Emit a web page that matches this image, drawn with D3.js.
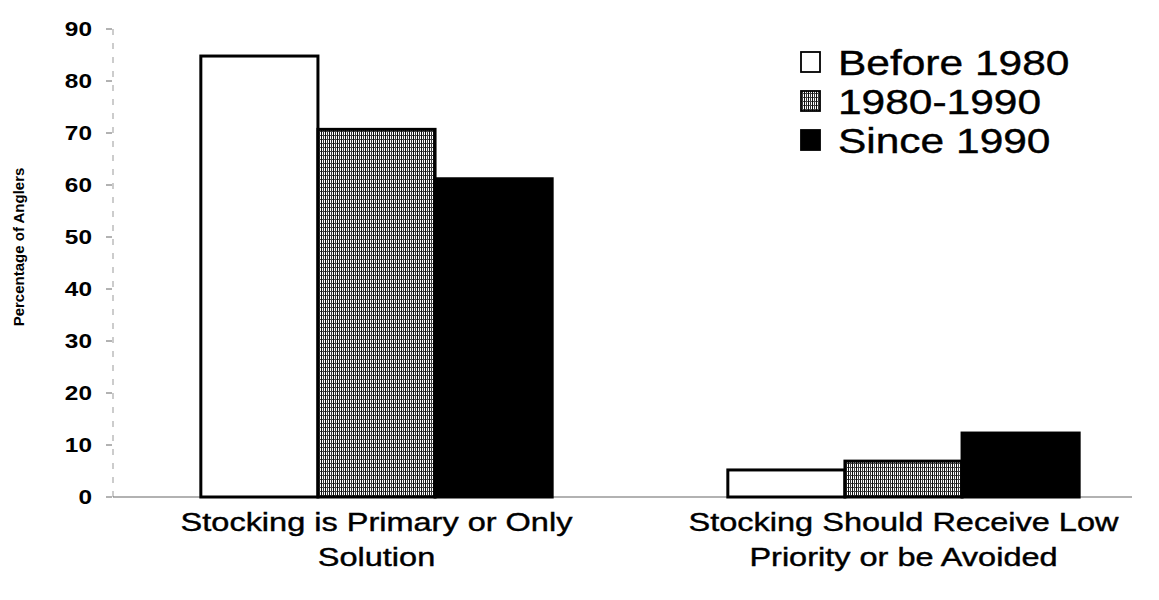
<!DOCTYPE html>
<meta charset="utf-8">
<html lang="en">
<head>
<title>Percentage of Anglers</title>
<script src="https://d3js.org/d3.v7.min.js"></script>
<style>
  html, body { margin: 0; padding: 0; background: #fff; }
  text { font-family: "Liberation Sans", Arial, sans-serif; fill: #000; }
  .tick-label { font-size: 20px; font-weight: bold; }
  .cat-label { font-size: 25px; stroke: #000; stroke-width: 0.4px; }
  .legend-label { font-size: 36px; stroke: #000; stroke-width: 0.4px; }
  .y-title { font-size: 15px; font-weight: bold; }
</style>
</head>
<body>
<div id="chart"></div>
<script>
// data
const categories = ["Stocking is Primary or Only Solution", "Stocking Should Receive Low Priority or be Avoided"];
const categoryLines = [["Stocking is Primary or Only", "Solution"], ["Stocking Should Receive Low", "Priority or be Avoided"]];
const series = ["Before 1980", "1980-1990", "Since 1990"];
const before1980 = [84.8, 5.2];
const from1980to1990 = [70.7, 6.9];
const since1990 = [61.2, 12.3];
const yTicks = [0, 10, 20, 30, 40, 50, 60, 70, 80, 90];

const values = [before1980, from1980to1990, since1990];
const W = 1159, H = 600;
const stretch = 1.22; // the scan is wider than tall

const svg = d3.select("#chart").append("svg")
    .attr("width", W).attr("height", H);

// stipple pattern for the middle series
const defs = svg.append("defs");
const pat = defs.append("pattern")
    .attr("id", "stipple")
    .attr("patternUnits", "userSpaceOnUse")
    .attr("width", 4).attr("height", 4);
pat.append("rect").attr("width", 4).attr("height", 4).attr("fill", "#fff");
pat.append("rect").attr("x", 0).attr("y", 0).attr("width", 1).attr("height", 4).attr("fill", "#111");
pat.append("rect").attr("x", 2).attr("y", 0).attr("width", 1).attr("height", 3).attr("fill", "#333");
pat.append("rect").attr("x", 1).attr("y", 3).attr("width", 3).attr("height", 1).attr("fill", "#444");

const fills = ["#fff", "url(#stipple)", "#000"];

const y = d3.scaleLinear().domain([0, 90]).range([497, 29]);
const x0 = d3.scaleBand().domain(categories).range([113, 1167]).paddingInner(0).paddingOuter(0);
const x1 = d3.scaleBand().domain(series).range([0, x0.bandwidth()]).paddingOuter(0.75).paddingInner(0);

// y axis (faint dashed)
svg.append("line")
    .attr("x1", 113).attr("x2", 113)
    .attr("y1", y(90)).attr("y2", y(0))
    .attr("stroke", "#999").attr("stroke-width", 1)
    .attr("stroke-dasharray", "6,8");

const yAxis = svg.append("g");
yAxis.selectAll("line.tick")
    .data(yTicks).enter().append("line")
    .attr("x1", 106).attr("x2", 112)
    .attr("y1", d => y(d)).attr("y2", d => y(d))
    .attr("stroke", "#666").attr("stroke-width", 1);
yAxis.selectAll("text")
    .data(yTicks).enter().append("text")
    .attr("class", "tick-label")
    .attr("transform", d => "translate(92," + y(d) + ")scale(" + stretch + ",1)")
    .attr("dy", "0.36em")
    .attr("text-anchor", "end")
    .text(d => d);

svg.append("text")
    .attr("class", "y-title")
    .attr("transform", "translate(19,247)rotate(-90)")
    .attr("text-anchor", "middle")
    .attr("dy", "0.35em")
    .text("Percentage of Anglers");

// bars
const groups = svg.append("g").selectAll("g")
    .data(categories).enter().append("g")
    .attr("transform", d => "translate(" + x0(d) + ",0)");

groups.selectAll("rect")
    .data((d, i) => series.map((s, j) => ({ s: s, v: values[j][i], j: j })))
    .enter().append("rect")
    .attr("x", d => x1(d.s))
    .attr("width", x1.bandwidth())
    .attr("y", d => y(d.v))
    .attr("height", d => y(0) - y(d.v))
    .attr("fill", d => fills[d.j])
    .attr("stroke", "#000")
    .attr("stroke-width", 3);

// x axis baseline
svg.insert("line", "g")
    .attr("x1", 113).attr("x2", 1132)
    .attr("y1", y(0)).attr("y2", y(0))
    .attr("stroke", "#666").attr("stroke-width", 1.2);

// category labels
categories.forEach((c, i) => {
    const cx = x0(c) + x0.bandwidth() / 2;
    categoryLines[i].forEach((ln, k) => {
        svg.append("text")
            .attr("class", "cat-label")
            .attr("text-anchor", "middle")
            .attr("transform", "translate(" + cx + "," + (531 + k * 35) + ")scale(1.3,1)")
            .text(ln);
    });
});

// legend
const legend = svg.append("g").attr("transform", "translate(800,51)");
const rowH = 39;
series.forEach((s, i) => {
    const g = legend.append("g").attr("transform", "translate(0," + (i * rowH) + ")");
    g.append("rect")
        .attr("x", 1).attr("y", 1)
        .attr("width", 19).attr("height", 20)
        .attr("fill", fills[i])
        .attr("stroke", "#000").attr("stroke-width", 1.8);
    g.append("text")
        .attr("class", "legend-label")
        .attr("transform", "translate(38,11)scale(1.18,1)")
        .attr("dy", "0.36em")
        .text(s);
});
</script>
</body>
</html>
